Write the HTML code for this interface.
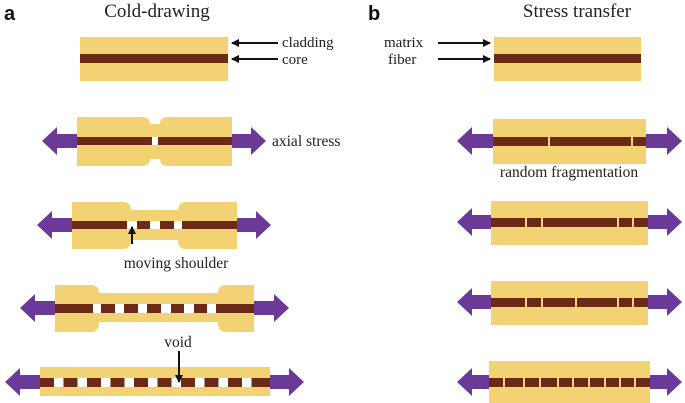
<!DOCTYPE html>
<html><head><meta charset="utf-8"><style>
html,body{margin:0;padding:0;background:#fff;}
svg{display:block;}
text{font-family:"Liberation Serif","DejaVu Serif",serif;fill:#222;}
</style></head><body>
<svg id="s" width="685" height="403" viewBox="0 0 685 403" xmlns="http://www.w3.org/2000/svg">
<defs><marker id="ah" markerWidth="8" markerHeight="8" refX="7" refY="4" orient="auto" markerUnits="userSpaceOnUse"><path d="M0,0 L8,4 L0,8 Z" fill="#111"/></marker></defs>
<text x="4" y="20" style="font-family:'Liberation Sans',sans-serif;font-weight:bold;font-size:20px;fill:#111">a</text>
<text x="157" y="17" font-size="19" text-anchor="middle">Cold-drawing</text>
<text x="368" y="20" style="font-family:'Liberation Sans',sans-serif;font-weight:bold;font-size:20px;fill:#111">b</text>
<text x="577" y="17" font-size="19" text-anchor="middle">Stress transfer</text>
<g id="g"></g>
<g stroke="#111" stroke-width="2" fill="none">
<line x1="278" y1="43" x2="232" y2="43" marker-end="url(#ah)"/>
<line x1="278" y1="59" x2="232" y2="59" marker-end="url(#ah)"/>
<line x1="438" y1="43" x2="490" y2="43" marker-end="url(#ah)"/>
<line x1="438" y1="59" x2="490" y2="59" marker-end="url(#ah)"/>
<line x1="132" y1="244" x2="132" y2="227" marker-end="url(#ah)"/>
<line x1="179" y1="351" x2="179" y2="382" marker-end="url(#ah)"/>
</g>
<text x="282" y="47" font-size="15">cladding</text>
<text x="282" y="64" font-size="15">core</text>
<text x="384" y="47" font-size="15">matrix</text>
<text x="388" y="64" font-size="15">fiber</text>
<text x="272" y="146" font-size="15.5">axial stress</text>
<text x="176" y="268" font-size="15.5" text-anchor="middle">moving shoulder</text>
<text x="178" y="347" font-size="15.5" text-anchor="middle">void</text>
<text x="569" y="177" font-size="15.5" text-anchor="middle">random fragmentation</text>
</svg>
<script>
var Y="#F3D274",B="#6B2A15",P="#6B3A98",W="#fff";
var h="";
function rect(x,y,w,hh,c){h+='<rect x="'+x+'" y="'+y+'" width="'+w+'" height="'+hh+'" fill="'+c+'"/>';}
function arrows(lx,rx,x0,x1,cy){
 h+='<polygon fill="'+P+'" points="'+lx+','+cy+' '+(lx+15)+','+(cy-14)+' '+(lx+15)+','+(cy-7)+' '+x0+','+(cy-7)+' '+x0+','+(cy+7)+' '+(lx+15)+','+(cy+7)+' '+(lx+15)+','+(cy+14)+'"/>';
 h+='<polygon fill="'+P+'" points="'+rx+','+cy+' '+(rx-15)+','+(cy-14)+' '+(rx-15)+','+(cy-7)+' '+x1+','+(cy-7)+' '+x1+','+(cy+7)+' '+(rx-15)+','+(cy+7)+' '+(rx-15)+','+(cy+14)+'"/>';
}
function neck(x0,x1,y0,y1,n0,n1,ny0,ny1){
 var r=8;
 h+='<path fill="'+Y+'" d="M'+x0+','+y0+' L'+(n0-r)+','+y0+' Q'+n0+','+y0+' '+n0+','+ny0+' L'+n1+','+ny0+' Q'+n1+','+y0+' '+(n1+r)+','+y0+' L'+x1+','+y0+' L'+x1+','+y1+' L'+(n1+r)+','+y1+' Q'+n1+','+y1+' '+n1+','+ny1+' L'+n0+','+ny1+' Q'+n0+','+y1+' '+(n0-r)+','+y1+' L'+x0+','+y1+' Z"/>';
}
function segs(list,y,hh){rect(list[0][0],y,list[list.length-1][1]-list[0][0],hh,W);list.forEach(function(s){rect(s[0],y,s[1]-s[0],hh,B);});}
rect(80,37,148,44,Y);rect(80,54,148,9,B);
neck(77,232,117,166,150,160,124,159);
segs([[77,152],[158,232]],137,8);
arrows(42,266,77,232,141);
neck(72,237,202,249,131,178,210,240);
segs([[72,127],[137,150],[160,174],[182,237]],221,8);
arrows(37,271,72,237,225);
neck(55,254,285,332,99,218,293,322);
segs([[55,93],[101,115],[124,138],[147,161],[171,184],[194,207],[216,254]],304,9);
arrows(20,289,55,254,308);
rect(40,367,230,29,Y);
var L=[];for(var x=40;x<270;x+=23.5){L.push([x,Math.min(x+14,270)]);}L[L.length-1][1]=270;
segs(L,378,9);
arrows(5,304,40,270,382);
rect(494,37,147,44,Y);rect(494,54,147,9,B);
function frag(x0,x1,y0,y1,cy,br){
 rect(x0,y0,x1-x0,y1-y0,Y);rect(x0,cy,x1-x0,9,B);
 br.forEach(function(b){rect(b-1,cy,2,9,Y);});
 arrows(457,682,x0,x1,cy+4);
}
frag(493,646,119,164,137,[549,632]);
frag(491,648,201,245,218,[526,542,618,633]);
frag(491,648,281,325,298,[526,542,576,618,633]);
frag(489,650,361,403,378,[504,524,540,558,573,589,605,620,635]);
document.getElementById('g').innerHTML=h;
</script>
</body></html>
